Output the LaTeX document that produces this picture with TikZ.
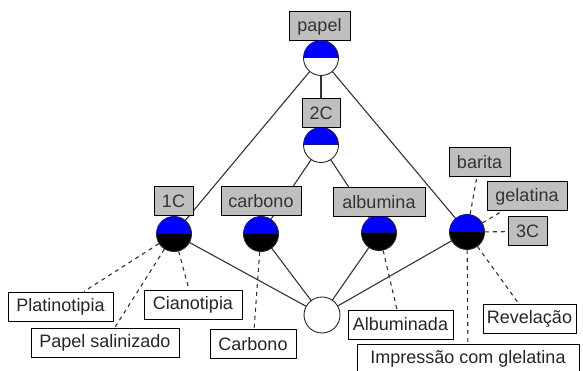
\documentclass[tikz,border=0pt]{standalone}
\usepackage{fontspec}
\setmainfont{Liberation Sans}
\usetikzlibrary{backgrounds}
\begin{document}
\begin{tikzpicture}[x=1pt,y=-1pt,
  font=\fontsize{18}{21}\selectfont,
  edge/.style={draw=black!80, line width=1.1pt},
  dedge/.style={draw=black!80, line width=1.1pt, dash pattern=on 4pt off 4pt},
  hw/.style={circle, draw=black!85, line width=0.9pt, minimum size=35pt, inner sep=0pt, fill=white,
    path picture={\fill[blue] (path picture bounding box.west) rectangle (path picture bounding box.north east);}},
  hb/.style={circle, draw=black!85, line width=0.9pt, minimum size=35pt, inner sep=0pt, fill=black,
    path picture={\fill[blue] (path picture bounding box.west) rectangle (path picture bounding box.north east);}},
  plain/.style={circle, draw=black!85, line width=0.9pt, minimum size=36pt, inner sep=0pt, fill=white},
  lab/.style={draw=black, line width=1pt, fill=black!25, minimum height=29pt, inner ysep=0pt, inner xsep=0pt, text=black!80},
  leaf/.style={draw=black, line width=1pt, fill=white, minimum height=29pt, inner ysep=0pt, inner xsep=0pt, text=black!85}
]
\useasboundingbox (0,0) rectangle (583,371);
\clip (0,0) rectangle (583,371);
% circles
\node[hw] (cP) at (321,58) {};
\node[hw] (c2) at (321,145) {};
\node[hb] (c1) at (174,234) {};
\node[hb] (cCa) at (261,234) {};
\node[hb] (cAl) at (379,233) {};
\node[hb] (c3) at (467,232) {};
\node[plain] (cB) at (322,315) {};
% label boxes
\node[lab, minimum width=61pt] (lP) at (319.5,26.5) {papel};
\node[lab, minimum width=38pt] (l2) at (321,113.5) {2C};
\node[lab, minimum width=39pt] (l1) at (173.5,201.5) {1C};
\node[lab, minimum width=80pt] (lCa) at (261,201.5) {carbono};
\node[lab, minimum width=92pt] (lAl) at (379,202) {albumina};
\node[lab, minimum width=61pt] (lBa) at (479.5,162) {barita};
\node[lab, minimum width=80pt] (lGe) at (527,196.5) {gelatina};
\node[lab, minimum width=39pt] (l3) at (527.5,231.5) {3C};
% leaf boxes
\node[leaf, minimum width=105pt] (pl) at (60.5,306.5) {Platinotipia};
\node[leaf, minimum width=98pt] (ci) at (193,304.5) {Cianotipia};
\node[leaf, minimum width=148pt] (ps) at (105,343) {Papel salinizado};
\node[leaf, minimum width=86pt] (ca) at (253,344) {Carbono};
\node[leaf, minimum width=105pt] (al) at (400.5,324.5) {Albuminada};
\node[leaf, minimum width=93pt] (re) at (529.5,318.5) {Revelação};
\node[leaf, minimum width=222pt] (im) at (468,358.5) {Impressão com glelatina};
% edges behind
\begin{scope}[on background layer]
\draw[edge] (cP.center) -- (c1.center);
\draw[edge] (cP.center) -- (c2.center);
\draw[edge] (cP.center) -- (c3.center);
\draw[edge] (c2.center) -- (cCa.center);
\draw[edge] (c2.center) -- (cAl.center);
\draw[edge] (c1.center) -- (cB.center);
\draw[edge] (cCa.center) -- (cB.center);
\draw[edge] (cAl.center) -- (cB.center);
\draw[edge] (c3.center) -- (cB.center);
\draw[dedge] (c1) -- (pl);
\draw[dedge] (c1) -- (ps);
\draw[dedge] (c1) -- (ci);
\draw[dedge] (cCa) -- (ca);
\draw[dedge] (cAl) -- (al);
\draw[dedge] (c3) -- (im);
\draw[dedge] (c3) -- (re);
\draw[dedge] (c3) -- (lBa);
\draw[dedge] (c3) -- (lGe);
\draw[dedge] (c3) -- (l3);
\end{scope}
\end{tikzpicture}
\end{document}
